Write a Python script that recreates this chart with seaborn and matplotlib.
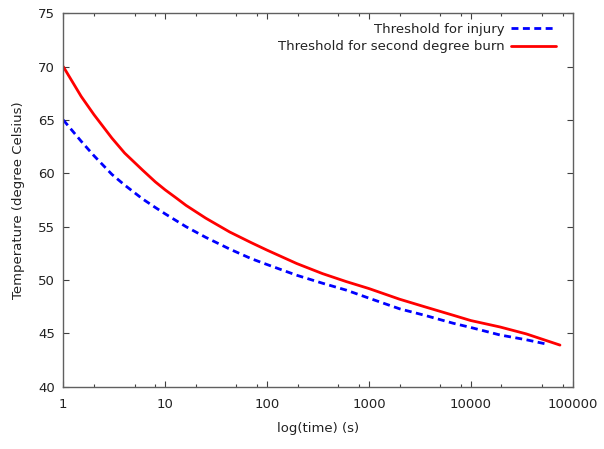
import numpy as np
import pandas as pd
import matplotlib
matplotlib.use("Agg")
import matplotlib.pyplot as plt
import seaborn as sns
from matplotlib.ticker import FixedLocator, FixedFormatter, NullFormatter

# ---- data ----
injury_time = [1, 1.5, 2, 3, 4, 6, 8, 10, 16, 25, 43, 70, 100, 195, 350, 600, 1000, 2000, 3500, 6700, 10000, 19300, 35000, 55000]
injury_temp = [65.0, 63.0, 61.65, 59.9, 58.9, 57.6, 56.8, 56.2, 55.0, 54.0, 52.9, 52.0, 51.45, 50.45, 49.7, 49.05, 48.3, 47.3, 46.7, 45.95, 45.55, 44.85, 44.4, 44.0]

burn_time = [1, 1.5, 2, 3, 4, 6, 8, 10, 13, 16, 25, 43, 70, 100, 195, 350, 600, 1000, 2000, 3500, 6700, 10000, 19300, 35000, 75000]
burn_temp = [70.0, 67.2, 65.5, 63.3, 61.9, 60.3, 59.2, 58.45, 57.65, 57.0, 55.8, 54.5, 53.5, 52.8, 51.55, 50.6, 49.85, 49.2, 48.2, 47.5, 46.7, 46.2, 45.6, 44.95, 43.9]

injury_label = "Threshold for injury"
burn_label = "Threshold for second degree burn"
xlabel = "log(time) (s)"
ylabel = "Temperature (degree Celsius)"
xticks = [1, 10, 100, 1000, 10000, 100000]
xtick_labels = ["1", "10", "100", "1000", "10000", "100000"]
yticks = [40, 45, 50, 55, 60, 65, 70, 75]

sns.set_theme(style="white")
plt.rcParams["font.family"] = ["DejaVu Sans"]
plt.rcParams["font.size"] = 9.5

fig = plt.figure(figsize=(6.04, 4.49), dpi=100)
ax = fig.add_axes([63.3 / 604, 1 - 386.7 / 449, (572.7 - 63.3) / 604, (386.7 - 13.3) / 449])

df_inj = pd.DataFrame({"t": injury_time, "T": injury_temp})
df_burn = pd.DataFrame({"t": burn_time, "T": burn_temp})

sns.lineplot(data=df_inj, x="t", y="T", ax=ax, color="#0000ff", lw=2.0,
             label=injury_label, estimator=None, sort=False)
ax.lines[-1].set_dashes([2.5, 1.6])
sns.lineplot(data=df_burn, x="t", y="T", ax=ax, color="#ff0000", lw=2.0,
             label=burn_label, estimator=None, sort=False)

ax.set_xscale("log")
ax.set_xlim(1, 100000)
ax.set_ylim(40, 75)
ax.xaxis.set_major_locator(FixedLocator(xticks))
ax.xaxis.set_major_formatter(FixedFormatter(xtick_labels))
minors = [m * 10 ** k for k in range(5) for m in (2, 5, 8)]
ax.xaxis.set_minor_locator(FixedLocator(minors))
ax.xaxis.set_minor_formatter(NullFormatter())
ax.set_yticks(yticks)
ax.set_yticklabels([str(v) for v in yticks])

for s in ax.spines.values():
    s.set_color("#606060")
    s.set_linewidth(1.0)
ax.tick_params(which="major", direction="in", length=4.5, width=0.8, color="#404040",
               top=True, right=True, bottom=True, left=True, labelsize=9.5, labelcolor="#222222")
ax.tick_params(axis="x", which="major", pad=8)
ax.tick_params(axis="y", which="major", pad=6)
ax.tick_params(which="minor", direction="in", length=2.3, width=0.8, color="#404040",
               top=True, bottom=True)

ax.set_xlabel(xlabel, fontsize=9.5, color="#222222", labelpad=8)
ax.set_ylabel(ylabel, fontsize=9.5, color="#222222", labelpad=9)

leg = ax.legend(loc="upper right", bbox_to_anchor=(0.985, 1.0), frameon=False,
                markerfirst=False, handlelength=3.4, handletextpad=0.5,
                labelspacing=0.35, fontsize=9.5, borderaxespad=0.3)
for t in leg.get_texts():
    t.set_color("#222222")

fig.savefig("out.png", dpi=100)
